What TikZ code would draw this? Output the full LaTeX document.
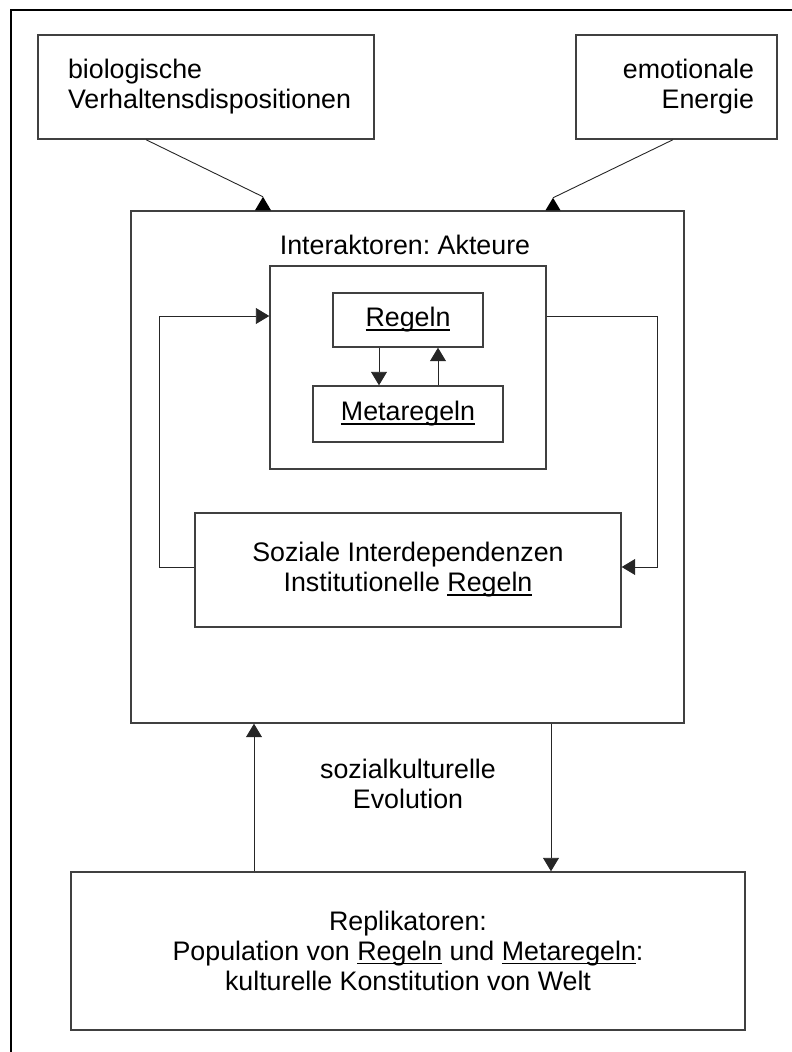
\documentclass[tikz,border=0pt]{standalone}
\usepackage{fontspec}
\setmainfont{Liberation Sans}
\usetikzlibrary{arrows.meta}
\frenchspacing
\newcommand\ulx[1]{\setbox0\hbox{#1}\rlap{\rule[-3.6pt]{\wd0}{1.5pt}}\box0\relax}
\begin{document}
\begin{tikzpicture}[x=1pt,y=-1pt,
  box/.style={draw=black!75, line width=1.4pt, inner sep=0pt, font=\fontsize{26.8}{30}\selectfont},
  lbl/.style={inner sep=0pt, align=center, font=\fontsize{26.8}{30}\selectfont},
  arr/.style={draw=black!85, line width=0.9pt, -{Triangle[width=16pt,length=13.5pt]}},
  ln/.style={draw=black!85, line width=0.9pt}]
\useasboundingbox (0,0) rectangle (792,1052);
% frame
\draw[line width=2.2pt] (11,1060) -- (11,10) -- (800,10);
% top boxes
\node[box, minimum width=336pt, minimum height=104pt, text width=336pt, align=left] (bio) at (206,87)
  {\hspace*{30pt}biologische\\\hspace*{30pt}Verhaltensdispositionen};
\node[box, minimum width=201pt, minimum height=104pt, text width=201pt, align=right] (emo) at (676.5,87)
  {emotionale\kern23pt\null\\Energie\kern23pt\null};
% Interaktoren
\node[box, minimum width=553pt, minimum height=512pt] (inter) at (407.5,467) {};
\node[lbl] (title) at (405,245) {Interaktoren: Akteure};
\node[box, minimum width=276pt, minimum height=203pt] (inner) at (408,367.5) {};
\node[box, minimum width=150pt, minimum height=54pt] (reg) at (408,320) {\ulx{Regeln}};
\node[box, minimum width=190pt, minimum height=56pt] (meta) at (408,414) {\ulx{Metaregeln}};
\node[box, minimum width=426pt, minimum height=114pt, align=center] (soz) at (408,570)
  {Soziale Interdependenzen\\Institutionelle \ulx{Regeln}};
% evolution text
\node[lbl] (evo) at (408,784) {sozialkulturelle\\Evolution};
% Replikatoren
\node[box, minimum width=674pt, minimum height=158pt, align=center] (rep) at (408,951)
  {Replikatoren:\\Population von \ulx{Regeln} und \ulx{Metaregeln}:\\kulturelle Konstitution von Welt};
% top connectors (triangle heads standing on the box edge)
\draw[ln] ([xshift=-60pt]bio.south) -- ([xshift=-144.5pt,yshift=13.5pt]inter.north);
\fill ([xshift=-152.5pt]inter.north) -- ([xshift=-144.5pt,yshift=13.5pt]inter.north) -- ([xshift=-136.5pt]inter.north) -- cycle;
\draw[ln] ([xshift=-3.5pt]emo.south) -- ([xshift=145.5pt,yshift=12.5pt]inter.north);
\fill ([xshift=138pt]inter.north) -- ([xshift=145.5pt,yshift=12.5pt]inter.north) -- ([xshift=153pt]inter.north) -- cycle;
% inner connectors
\draw[arr] ([xshift=-29pt]reg.south) -- ([xshift=-29pt]meta.north);
\draw[arr] ([xshift=30pt]meta.north) -- ([xshift=30pt]reg.south);
\draw[arr] ([yshift=3pt]soz.west) -- ++(-35,0) |- ([yshift=51.5pt]inner.west);
\draw[arr] ([yshift=51.5pt]inner.east) -- ++(111,0) |- ([yshift=3pt]soz.east);
% evolution connectors
\draw[arr] ([xshift=-154pt]rep.north) -- ([xshift=-153.5pt]inter.south);
\draw[arr] ([xshift=143.5pt]inter.south) -- ([xshift=143pt]rep.north);
\end{tikzpicture}
\end{document}
